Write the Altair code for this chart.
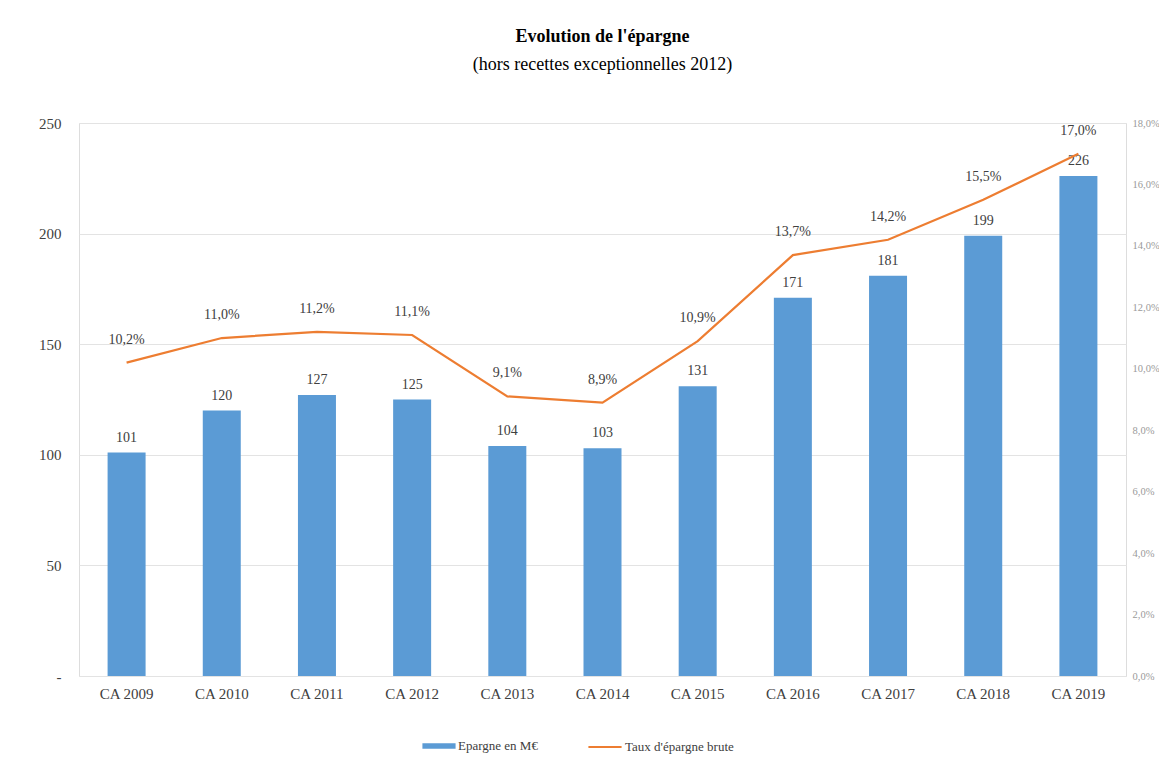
import altair as alt
import pandas as pd

categories = ["CA 2009", "CA 2010", "CA 2011", "CA 2012", "CA 2013", "CA 2014",
              "CA 2015", "CA 2016", "CA 2017", "CA 2018", "CA 2019"]
epargne = [101, 120, 127, 125, 104, 103, 131, 171, 181, 199, 226]
taux = [10.2, 11.0, 11.2, 11.1, 9.1, 8.9, 10.9, 13.7, 14.2, 15.5, 17.0]

BAR_NAME = "Epargne en M€"
LINE_NAME = "Taux d'épargne brute"

df = pd.DataFrame({
    "cat": categories,
    "epargne": epargne,
    "taux": taux,
    "taux_label": [f"{v:.1f}".replace(".", ",") + "%" for v in taux],
    "bar_series": BAR_NAME,
    "line_series": LINE_NAME,
})

FONT = "Liberation Serif"
BLUE = "#5B9BD5"
ORANGE = "#ED7D31"

x = alt.X("cat:N", sort=categories, title=None,
          scale=alt.Scale(paddingInner=0, paddingOuter=0),
          axis=alt.Axis(labelAngle=0, labelFont=FONT, labelFontSize=15,
                        labelColor="#404040", ticks=False, domain=False,
                        labelPadding=10))

base = alt.Chart(df)

yl = alt.Y("epargne:Q", title=None,
           scale=alt.Scale(domain=[0, 250], nice=False),
           axis=alt.Axis(values=[0, 50, 100, 150, 200, 250], orient="left",
                         labelExpr="datum.value == 0 ? '-' : datum.label",
                         labelFont=FONT, labelFontSize=15, labelColor="#404040",
                         ticks=False, domain=False, labelPadding=18,
                         grid=True, gridColor="#e3e3e3", gridWidth=1))

bars = base.mark_bar(size=38).encode(
    x=x,
    y=yl,
    color=alt.Color("bar_series:N", title=None,
                    scale=alt.Scale(domain=[BAR_NAME], range=[BLUE]),
                    legend=alt.Legend(orient="none", legendX=343, legendY=606,
                                      direction="horizontal",
                                      symbolType="M-1,-0.17L1,-0.17L1,0.17L-1,0.17Z",
                                      symbolSize=1100, symbolStrokeWidth=0,
                                      labelFont=FONT, labelFontSize=13,
                                      labelColor="#404040", labelOffset=2)),
)

bar_text = base.mark_text(baseline="bottom", dy=-8, font=FONT, fontSize=14,
                          color="#404040").encode(
    x=x,
    y=yl,
    text=alt.Text("epargne:Q"),
)

yr = alt.Y("taux:Q", title=None,
           scale=alt.Scale(domain=[0, 18], nice=False),
           axis=alt.Axis(values=[0, 2, 4, 6, 8, 10, 12, 14, 16, 18], orient="right",
                         labelExpr="replace(format(datum.value, '.1f'), '.', ',') + '%'",
                         labelFont=FONT, labelFontSize=10.5, labelColor="#9a9a9a",
                         ticks=False, domain=False, grid=False, labelPadding=6))

line = base.mark_line(strokeWidth=2.2).encode(
    x=x,
    y=yr,
    stroke=alt.Stroke("line_series:N", title=None,
                      scale=alt.Scale(domain=[LINE_NAME], range=[ORANGE]),
                      legend=alt.Legend(orient="none", legendX=508, legendY=606,
                                        direction="horizontal",
                                        symbolType="stroke", symbolSize=1100,
                                        symbolStrokeWidth=2,
                                        labelFont=FONT, labelFontSize=13,
                                        labelColor="#404040", labelOffset=2)),
)

line_text = base.mark_text(baseline="bottom", dy=-16, font=FONT, fontSize=14,
                           color="#404040").encode(
    x=x,
    y=yr,
    text="taux_label:N",
)

left_layer = alt.layer(bars, bar_text)
right_layer = alt.layer(line, line_text)

chart = alt.layer(left_layer, right_layer).resolve_scale(
    y="independent"
).properties(
    width=1047,
    height=553,
    padding={"left": 71, "top": 115, "right": 33, "bottom": 85},
    autosize=alt.AutoSizeParams(type="none"),
    title=alt.TitleParams(
        text="Evolution de l'épargne",
        subtitle="(hors recettes exceptionnelles 2012)",
        font=FONT, fontSize=18, fontWeight="bold", color="#000000",
        subtitleFont=FONT, subtitleFontSize=18, subtitleColor="#000000",
        subtitlePadding=10, anchor="middle", offset=42,
    ),
).configure_view(
    stroke="#bfbfbf", strokeWidth=1.5
).configure(background="white")

chart.save("out.html", embed_options={"renderer": "svg", "actions": False})
